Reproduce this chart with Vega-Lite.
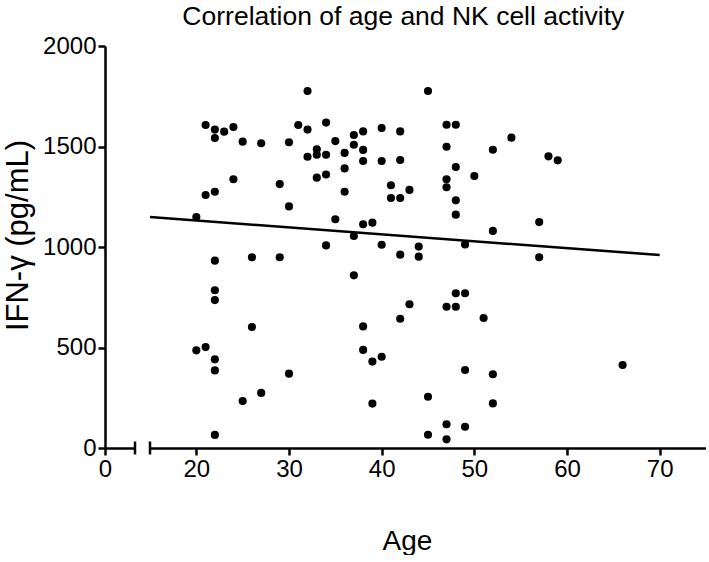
{
  "$schema": "https://vega.github.io/schema/vega-lite/v6.json",
  "padding": {"left": 2, "top": 3, "right": 0, "bottom": 0},
  "background": "white",
  "title": {
    "text": "Correlation of age and NK cell activity",
    "font": "Liberation Sans",
    "fontSize": 26.5,
    "fontWeight": "normal",
    "color": "black",
    "anchor": "middle",
    "dx": 49,
    "offset": 4
  },
  "datasets": {
    "points": [
      {"Age": 21, "IFN": 1607}, {"Age": 22, "IFN": 1584}, {"Age": 22, "IFN": 1542}, {"Age": 23, "IFN": 1574},
      {"Age": 24, "IFN": 1597}, {"Age": 25, "IFN": 1524}, {"Age": 27, "IFN": 1516}, {"Age": 30, "IFN": 1521},
      {"Age": 31, "IFN": 1607}, {"Age": 24, "IFN": 1337}, {"Age": 21, "IFN": 1259}, {"Age": 22, "IFN": 1275},
      {"Age": 29, "IFN": 1313}, {"Age": 30, "IFN": 1202}, {"Age": 20, "IFN": 1149},
      {"Age": 32, "IFN": 1776}, {"Age": 45, "IFN": 1776}, {"Age": 32, "IFN": 1584}, {"Age": 34, "IFN": 1619},
      {"Age": 33, "IFN": 1486}, {"Age": 33, "IFN": 1459}, {"Age": 32, "IFN": 1449}, {"Age": 34, "IFN": 1459},
      {"Age": 35, "IFN": 1527}, {"Age": 36, "IFN": 1468}, {"Age": 37, "IFN": 1557}, {"Age": 37, "IFN": 1509},
      {"Age": 38, "IFN": 1575}, {"Age": 38, "IFN": 1483}, {"Age": 38, "IFN": 1428}, {"Age": 36, "IFN": 1391},
      {"Age": 34, "IFN": 1361}, {"Age": 33, "IFN": 1345}, {"Age": 36, "IFN": 1275}, {"Age": 40, "IFN": 1592},
      {"Age": 40, "IFN": 1428}, {"Age": 42, "IFN": 1575}, {"Age": 42, "IFN": 1433}, {"Age": 41, "IFN": 1307},
      {"Age": 41, "IFN": 1244}, {"Age": 42, "IFN": 1244}, {"Age": 43, "IFN": 1284}, {"Age": 47, "IFN": 1608},
      {"Age": 48, "IFN": 1608}, {"Age": 47, "IFN": 1499}, {"Age": 48, "IFN": 1398}, {"Age": 50, "IFN": 1353},
      {"Age": 47, "IFN": 1337}, {"Age": 47, "IFN": 1297}, {"Age": 48, "IFN": 1232}, {"Age": 48, "IFN": 1161},
      {"Age": 35, "IFN": 1138}, {"Age": 38, "IFN": 1113}, {"Age": 39, "IFN": 1121}, {"Age": 34, "IFN": 1008},
      {"Age": 37, "IFN": 1055}, {"Age": 40, "IFN": 1011}, {"Age": 44, "IFN": 1002}, {"Age": 49, "IFN": 1013},
      {"Age": 54, "IFN": 1544}, {"Age": 52, "IFN": 1484}, {"Age": 58, "IFN": 1451}, {"Age": 59, "IFN": 1431},
      {"Age": 57, "IFN": 1124}, {"Age": 52, "IFN": 1080},
      {"Age": 22, "IFN": 932}, {"Age": 26, "IFN": 949}, {"Age": 29, "IFN": 949}, {"Age": 22, "IFN": 785},
      {"Age": 22, "IFN": 736}, {"Age": 26, "IFN": 602}, {"Age": 20, "IFN": 486}, {"Age": 21, "IFN": 502},
      {"Age": 22, "IFN": 441}, {"Age": 22, "IFN": 386}, {"Age": 30, "IFN": 370}, {"Age": 27, "IFN": 274},
      {"Age": 25, "IFN": 234}, {"Age": 22, "IFN": 65},
      {"Age": 42, "IFN": 962}, {"Age": 44, "IFN": 952}, {"Age": 37, "IFN": 859}, {"Age": 48, "IFN": 770},
      {"Age": 49, "IFN": 770}, {"Age": 43, "IFN": 715}, {"Age": 47, "IFN": 703}, {"Age": 48, "IFN": 703},
      {"Age": 42, "IFN": 643}, {"Age": 38, "IFN": 605}, {"Age": 38, "IFN": 488}, {"Age": 39, "IFN": 430},
      {"Age": 40, "IFN": 454}, {"Age": 49, "IFN": 388}, {"Age": 45, "IFN": 255}, {"Age": 39, "IFN": 221},
      {"Age": 47, "IFN": 118}, {"Age": 49, "IFN": 106}, {"Age": 45, "IFN": 66}, {"Age": 47, "IFN": 43},
      {"Age": 57, "IFN": 949}, {"Age": 51, "IFN": 647}, {"Age": 52, "IFN": 367}, {"Age": 52, "IFN": 222},
      {"Age": 66, "IFN": 413}
    ],
    "fit": [
      {"Age": 15, "IFN": 1149},
      {"Age": 70, "IFN": 960}
    ],
    "leftcap": [
      {"Age": 10, "IFN": 0}
    ],
    "rightcap": [
      {"Age": 15, "IFN": 0}
    ]
  },
  "spacing": 15,
  "bounds": "flush",
  "hconcat": [
    {
      "width": 30,
      "height": 402,
      "data": {"name": "leftcap"},
      "mark": {"type": "tick", "orient": "vertical", "size": 13, "thickness": 2.5, "color": "black", "opacity": 1},
      "encoding": {
        "x": {
          "field": "Age",
          "type": "quantitative",
          "scale": {"domain": [0, 10], "nice": false, "zero": false},
          "axis": {
            "values": [0],
            "title": null,
            "grid": false,
            "labelFlush": false
          }
        },
        "y": {
          "field": "IFN",
          "type": "quantitative",
          "scale": {"domain": [0, 2000], "nice": false},
          "axis": {
            "values": [0, 500, 1000, 1500, 2000],
            "format": "d",
            "title": "IFN-γ (pg/mL)",
            "titleFontSize": 31,
            "titlePadding": 8,
            "titleY": 189,
            "grid": false,
            "labelFlush": false
          }
        }
      }
    },
    {
      "width": 556,
      "height": 402,
      "layer": [
        {
          "data": {"name": "points"},
          "mark": {"type": "circle", "size": 66, "color": "black", "opacity": 1},
          "encoding": {
            "x": {
              "field": "Age",
              "type": "quantitative",
              "scale": {"domain": [15, 75], "nice": false, "zero": false},
              "axis": {
                "values": [20, 30, 40, 50, 60, 70],
                "title": "Age",
                "titleFontSize": 28,
                "titleX": 257,
                "titleY": 101,
                "titleAlign": "center",
                "titleBaseline": "alphabetic",
                "grid": false,
                "labelFlush": false
              }
            },
            "y": {
              "field": "IFN",
              "type": "quantitative",
              "scale": {"domain": [0, 2000], "nice": false},
              "axis": null
            }
          }
        },
        {
          "data": {"name": "rightcap"},
          "mark": {"type": "tick", "orient": "vertical", "size": 13, "thickness": 2.5, "color": "black", "opacity": 1},
          "encoding": {
            "x": {"field": "Age", "type": "quantitative"},
            "y": {"field": "IFN", "type": "quantitative"}
          }
        },
        {
          "data": {"name": "fit"},
          "mark": {"type": "line", "color": "black", "strokeWidth": 2.5},
          "encoding": {
            "x": {"field": "Age", "type": "quantitative"},
            "y": {"field": "IFN", "type": "quantitative"}
          }
        }
      ]
    }
  ],
  "config": {
    "view": {"stroke": null},
    "font": "Liberation Sans",
    "axis": {
      "domainColor": "black",
      "domainWidth": 2.5,
      "tickColor": "black",
      "tickWidth": 2.5,
      "tickSize": 7,
      "labelFont": "Liberation Sans",
      "labelFontSize": 24,
      "labelColor": "black",
      "labelPadding": 2,
      "titleFont": "Liberation Sans",
      "titleFontWeight": "normal",
      "titleColor": "black"
    }
  }
}
